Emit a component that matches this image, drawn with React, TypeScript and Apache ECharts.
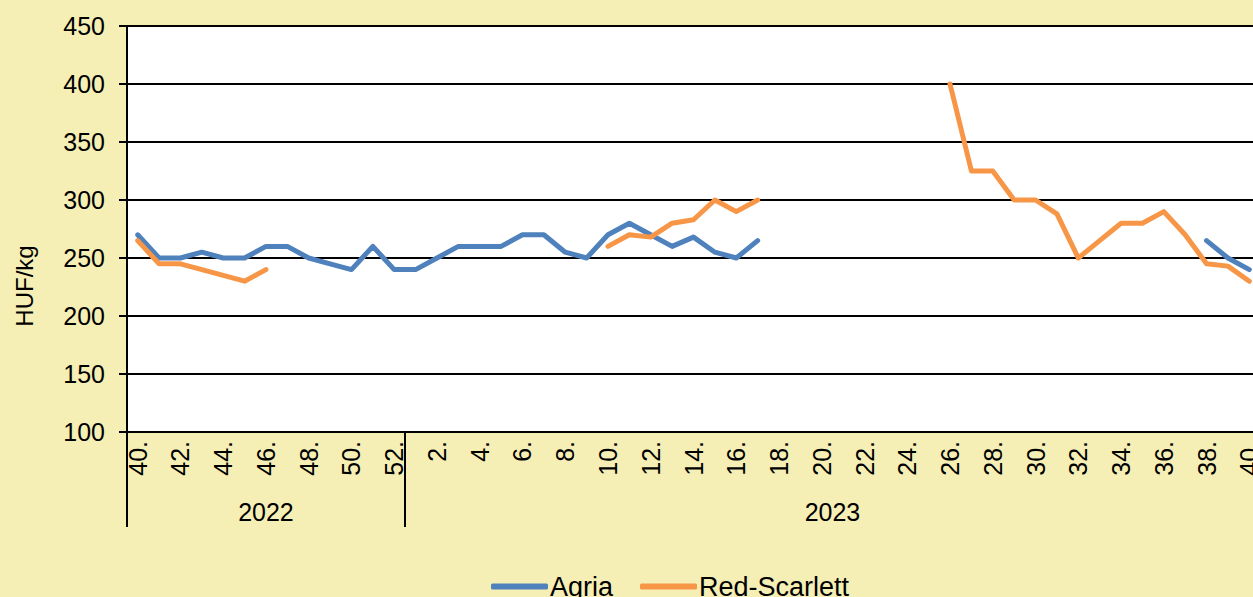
import React, { useEffect, useRef } from "react";
import * as echarts from "echarts";

const years = ["2022", "2023"];
const weeks2022 = [40, 41, 42, 43, 44, 45, 46, 47, 48, 49, 50, 51, 52];
const weeks2023 = [
  1, 2, 3, 4, 5, 6, 7, 8, 9, 10, 11, 12, 13, 14, 15, 16, 17, 18, 19, 20,
  21, 22, 23, 24, 25, 26, 27, 28, 29, 30, 31, 32, 33, 34, 35, 36, 37, 38, 39, 40,
];

const agria2022 = [270, 250, 250, 255, 250, 250, 260, 260, 250, 245, 240, 260, 240];
const agria2023 = [
  240, 250, 260, 260, 260, 270, 270, 255, 250, 270, 280, 270, 260, 268, 255, 250, 265,
  null, null, null, null, null, null, null, null, null, null,
  null, null, null, null, null, null, null, null, null, null,
  265, 250, 240,
];

const red2022 = [265, 245, 245, 240, 235, 230, 240, null, null, null, null, null, null];
const red2023 = [
  null, null, null, null, null, null, null, null, null,
  260, 270, 268, 280, 283, 300, 290, 300,
  null, null, null, null, null, null, null, null,
  400, 325, 325, 300, 300, 288, 250, 265, 280, 280, 290, 270, 245, 243, 230,
];

const yTicks = { min: 100, max: 450, interval: 50 };

const FONT = "'Liberation Sans', Arial, sans-serif";
const BG = "#F5EFB5";

export default function App() {
  const ref = useRef<HTMLDivElement>(null);

  useEffect(() => {
    if (!ref.current) return;
    const chart = echarts.init(ref.current, null, { renderer: "svg" });

    const categories = [
      ...weeks2022.map((w) => `${w}.`),
      ...weeks2023.map((w) => `${w}.`),
    ];
    const agria = [...agria2022, ...agria2023];
    const red = [...red2022, ...red2023];

    const n1 = weeks2022.length;
    const total = categories.length;
    const yearCenters = [n1 / 2, n1 + (total - n1) / 2];
    const yearBounds = [0, n1, total];

    chart.setOption({
      animation: false,
      backgroundColor: BG,
      textStyle: { fontFamily: FONT },
      grid: {
        left: 127,
        top: 26,
        width: 1133,
        height: 406,
        show: true,
        backgroundColor: "#ffffff",
        borderWidth: 0,
        containLabel: false,
      },
      legend: {
        data: ["Agria", "Red-Scarlett"],
        left: 486,
        top: 568,
        icon: "roundRect",
        itemWidth: 57,
        itemHeight: 6,
        itemGap: 27,
        textStyle: { fontFamily: FONT, fontSize: 27, color: "#000", padding: [0, 0, 0, -3] },
      },
      graphic: [
        {
          type: "text",
          x: 24,
          y: 286,
          rotation: Math.PI / 2,
          style: {
            text: "HUF/kg",
            fontFamily: FONT,
            fontSize: 24,
            fill: "#000",
            align: "center",
            verticalAlign: "middle",
          },
        },
      ],
      xAxis: [
        {
          type: "category",
          data: categories,
          boundaryGap: true,
          axisLine: { show: true, lineStyle: { color: "#000", width: 2 } },
          axisTick: { show: false },
          axisLabel: {
            interval: 1,
            rotate: 90,
            margin: 9,
            fontFamily: FONT,
            fontSize: 25,
            color: "#000",
          },
          splitLine: { show: false },
        },
        {
          type: "value",
          min: 0,
          max: total,
          position: "bottom",
          axisLine: { show: false },
          splitLine: { show: false },
          axisTick: {
            show: true,
            customValues: yearBounds,
            length: 95,
            lineStyle: { color: "#000", width: 2 },
          },
          axisLabel: {
            show: true,
            customValues: yearCenters,
            margin: 67,
            fontFamily: FONT,
            fontSize: 25,
            color: "#000",
            formatter: (v: number) => {
              const idx = yearCenters.findIndex((c) => Math.abs(c - v) < 1e-6);
              return idx >= 0 ? years[idx] : "";
            },
          },
        },
      ],
      yAxis: {
        type: "value",
        min: yTicks.min,
        max: yTicks.max,
        interval: yTicks.interval,
        axisLine: { show: true, lineStyle: { color: "#000", width: 2 } },
        axisTick: { show: true, length: 8, lineStyle: { color: "#000", width: 2 } },
        axisLabel: { margin: 22, fontFamily: FONT, fontSize: 25, color: "#000" },
        splitLine: { show: true, lineStyle: { color: "#000", width: 2 } },
      },
      series: [
        {
          name: "Agria",
          type: "line",
          data: agria,
          xAxisIndex: 0,
          symbol: "none",
          connectNulls: false,
          itemStyle: { color: "#4F81BD" },
          lineStyle: { color: "#4F81BD", width: 5, cap: "round", join: "round" },
        },
        {
          name: "Red-Scarlett",
          type: "line",
          data: red,
          xAxisIndex: 0,
          symbol: "none",
          connectNulls: false,
          itemStyle: { color: "#F79646" },
          lineStyle: { color: "#F79646", width: 5, cap: "round", join: "round" },
        },
      ],
    });

    return () => chart.dispose();
  }, []);

  return (
    <div
      style={{
        position: "fixed",
        left: 0,
        top: 0,
        width: 1253,
        height: 597,
        overflow: "hidden",
        background: BG,
      }}
    >
      <div ref={ref} style={{ width: 1266, height: 597 }} />
    </div>
  );
}
